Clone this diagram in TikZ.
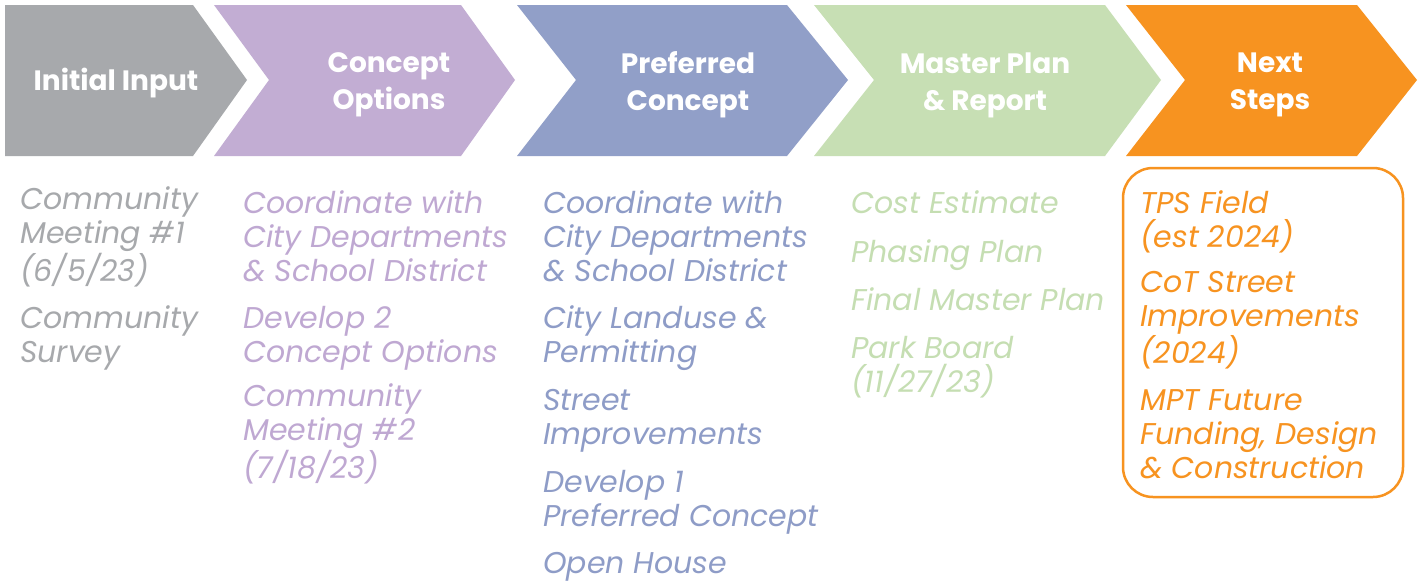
\documentclass[tikz,border=0pt]{standalone}
\usepackage{fontspec}
\setmainfont{Poppins}
\definecolor{cgray}{HTML}{A7A9AC}
\definecolor{cpurple}{HTML}{C2ADD3}
\definecolor{cblue}{HTML}{919FC8}
\definecolor{cgreen}{HTML}{C7DFB4}
\definecolor{corange}{HTML}{F79320}
\definecolor{tpurple}{HTML}{BFA8D2}
\definecolor{tblue}{HTML}{8E9CC7}
\definecolor{tgreen}{HTML}{C5DEB2}
\begin{document}
\begin{tikzpicture}[x=1pt,y=-1pt,
  head/.style={text=white,align=center,font={\fontsize{28}{37}\selectfont\bfseries}},
  item/.style={anchor=base west,align=left,inner sep=0pt,font={\fontsize{30}{34}\selectfont\itshape}}]
\useasboundingbox[fill=white] (0,0) rectangle (1421,581);
% chevrons
\fill[cgray] (5,5) -- (193,5) -- (247,80) -- (193,156) -- (5,156) -- cycle;
\fill[cpurple] (214,5) -- (461,5) -- (515,80) -- (461,156) -- (214,156) -- (269,80) -- cycle;
\fill[cblue] (517,5) -- (787,5) -- (848,80) -- (787,156) -- (517,156) -- (576,80) -- cycle;
\fill[cgreen] (814,5) -- (1105,5) -- (1161,80) -- (1105,156) -- (814,156) -- (874,80) -- cycle;
\fill[corange] (1126,5) -- (1357,5) -- (1417,80) -- (1357,156) -- (1126,156) -- (1185,80) -- cycle;
% headers
\node[head] (h1) at (116,83) {Initial Input};
\node[head] (h2) at (389,85) {Concept\\Options};
\node[head] (h3) at (688,85) {Preferred\\Concept};
\node[head] (h4) at (985,85) {Master Plan\\\& Report};
\node[head] (h5) at (1270,85) {Next\\Steps};
% column 1 (anchor = baseline of last line)
\node[item,text=cgray] (a1) at (20,281) {Community\\Meeting \#1\\(6/5/23)};
\node[item,text=cgray] (a2) at (20,362) {Community\\Survey};
% column 2
\node[item,text=tpurple] (b1) at (243,281) {Coordinate with\\City Departments\\\& School District};
\node[item,text=tpurple] (b2) at (243,362) {Develop 2\\Concept Options};
\node[item,text=tpurple] (b3) at (243,478) {Community\\Meeting \#2\\(7/18/23)};
% column 3
\node[item,text=tblue] (c1) at (543,281) {Coordinate with\\City Departments\\\& School District};
\node[item,text=tblue] (c2) at (543,362) {City Landuse \&\\Permitting};
\node[item,text=tblue] (c3) at (543,444) {Street\\Improvements};
\node[item,text=tblue] (c4) at (543,526) {Develop 1\\Preferred Concept};
\node[item,text=tblue] (c5) at (543,573) {Open House};
% column 4
\node[item,text=tgreen] (d1) at (851,213) {Cost Estimate};
\node[item,text=tgreen] (d2) at (851,262) {Phasing Plan};
\node[item,text=tgreen] (d3) at (851,310) {Final Master Plan};
\node[item,text=tgreen] (d4) at (851,392) {Park Board\\(11/27/23)};
% column 5
\draw[corange,line width=2.5pt,rounded corners=30pt] (1123,168) rectangle (1403,497);
\node[item,text=corange] (e1) at (1140,247) {TPS Field\\(est 2024)};
\node[item,text=corange] (e2) at (1140,363) {CoT Street\\Improvements\\(2024)};
\node[item,text=corange] (e3) at (1140,478) {MPT Future\\Funding, Design\\\& Construction};
\end{tikzpicture}
\end{document}
